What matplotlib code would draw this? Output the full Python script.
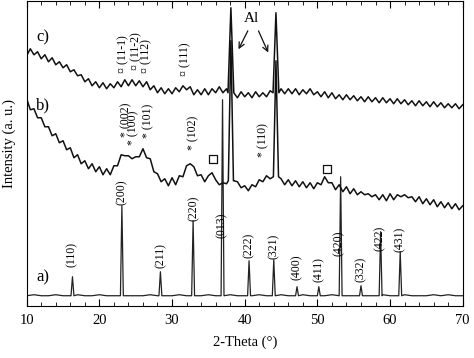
import numpy as np
import matplotlib
matplotlib.use('Agg')
import matplotlib.pyplot as plt
from matplotlib.ticker import MultipleLocator

plt.rcParams['font.family'] = ['Liberation Serif', 'DejaVu Serif']

# intensity, in pixels above the bottom spine
# traces b and c sampled every 0.5 deg from 10 to 70
theta_bc = np.arange(10, 70.01, 0.5)
base_c = [250, 257, 251, 254, 247, 251, 244, 248, 241, 244,
          238, 241, 234, 236, 230, 231, 224, 227, 220, 224,
          218, 223, 217, 222, 218, 224, 219, 226, 220, 226,
          220, 225, 219, 224, 216, 220, 213, 218, 212, 217,
          212, 218, 214, 220, 216, 219, 211, 216, 211, 217,
          211, 217, 213, 219, 213, 217, 213, 213, 208, 214,
          209, 213, 208, 214, 209, 213, 209, 215, 213, 213,
          217, 212, 217, 212, 217, 211, 216, 212, 217, 211,
          214, 209, 214, 208, 213, 207, 211, 206, 211, 206,
          210, 205, 209, 204, 209, 204, 208, 203, 208, 203,
          207, 202, 207, 202, 206, 201, 205, 200, 205, 200,
          204, 199, 204, 199, 203, 198, 202, 198, 202, 197,
          201]
base_b = [207, 196, 197, 188, 188, 179, 179, 170, 172, 163,
          165, 156, 158, 148, 151, 142, 145, 137, 142, 134,
          139, 131, 137, 131, 140, 140, 151, 150, 150, 147,
          149, 149, 157, 148, 147, 134, 132, 124, 127, 120,
          128, 121, 130, 129, 140, 142, 139, 130, 131, 124,
          130, 133, 126, 121, 123, 122, 126, 125, 124, 118,
          120, 115, 121, 119, 126, 124, 130, 127, 130, 128,
          127, 121, 126, 120, 125, 119, 124, 118, 123, 117,
          123, 121, 129, 123, 123, 116, 121, 114, 119, 112,
          117, 111, 114, 111, 112, 109, 111, 106, 111, 105,
          112, 106, 111, 109, 111, 108, 109, 104, 109, 102,
          107, 101, 106, 99, 104, 98, 103, 97, 102, 96,
          100]
# trace a sampled every 1 deg
theta_a = np.arange(10, 70.01, 1.0)
base_a = [10, 11, 10, 10, 11, 10, 10, 11, 10, 10,
          11, 10, 10, 11, 10, 10, 10, 11, 10, 10,
          10, 11, 10, 10, 10, 11, 10, 10, 11, 10,
          10, 10, 11, 10, 10, 11, 10, 10, 11, 10,
          10, 10, 11, 10, 10, 10, 11, 10, 10, 11,
          10, 10, 11, 10, 10, 10, 11, 10, 11, 10,
          10]

# sharp peaks: position, top, foot
peak_a_pos = [16.3, 23.1, 28.4, 32.9, 36.95, 40.6, 44.0, 47.2, 50.2, 53.2, 56.0, 58.7, 61.4]
peak_a_top = [29, 100, 34, 85, 206, 45, 46, 19, 19, 129, 20, 74, 54]
peak_a_foot = [10] * 13
peak_b_pos = [38.1, 44.3]
peak_b_top = [265, 245]
peak_b_foot = [125, 129]
peak_c_pos = [38.1, 44.3]
peak_c_top = [298, 293]
peak_c_foot = [213, 213]

# labels (x, y bottom)
hkl_a = ['(110)', '(200)', '(211)', '(220)', '(013)', '(222)', '(321)',
         '(400)', '(411)', '(420)', '(332)', '(422)', '(431)']
hkl_a_x = [16.2, 23.1, 28.4, 33.0, 36.85, 40.6, 44.0, 47.1, 50.2, 52.9, 56.0, 58.6, 61.4]
hkl_a_y = [39, 101, 38, 85, 68, 48, 47, 26, 24, 50, 24, 55, 54]
hkl_b = ['* (002)', '* (100)', '* (101)', '* (102)', '* (110)']
hkl_b_x = [23.7, 24.7, 26.7, 32.9, 42.6]
hkl_b_y = [169, 161, 168, 156, 149]
hkl_c = ['¤ (11-1)', '¤ (11-2)', '¤ (112)', '¤ (111)']
hkl_c_x = [23.3, 25.1, 26.5, 31.8]
hkl_c_y = [233, 236, 233, 230]
square_x = [35.7, 51.3]
square_y = [147, 137]


def build(theta, base, pos, top, foot, w):
    theta = np.asarray(theta)
    base = np.asarray(base, dtype=float)
    keep = np.ones(len(theta), bool)
    for p in pos:
        keep &= np.abs(theta - p) > w
    xs = list(theta[keep])
    ys = list(base[keep])
    for p, t, f in zip(pos, top, foot):
        xs += [p - w, p, p + w]
        ys += [f, t, f]
    order = np.argsort(xs)
    return np.array(xs)[order], np.array(ys)[order]


fig = plt.figure(figsize=(4.74, 3.58), dpi=100)
ax = fig.add_axes([0.0563, 0.146, 0.9199, 0.851])

xa, ya = build(theta_a, base_a, peak_a_pos, peak_a_top, peak_a_foot, 0.2)
xb, yb = build(theta_bc, base_b, peak_b_pos, peak_b_top, peak_b_foot, 0.35)
xc, yc = build(theta_bc, base_c, peak_c_pos, peak_c_top, peak_c_foot, 0.4)
ax.plot(xa, ya, color='#222222', lw=0.9)
ax.plot(xb, yb, color='#111111', lw=1.1)
ax.plot(xc, yc, color='#111111', lw=1.1)

for t, x, y in zip(hkl_a, hkl_a_x, hkl_a_y):
    ax.text(x, y, t, rotation=90, ha='center', va='bottom', fontsize=8.5)
for t, x, y in zip(hkl_b, hkl_b_x, hkl_b_y):
    ax.text(x, y, t, rotation=90, ha='center', va='bottom', fontsize=8.5)
for t, x, y in zip(hkl_c, hkl_c_x, hkl_c_y):
    ax.text(x, y, t, rotation=90, ha='center', va='bottom', fontsize=8.5)
ax.scatter(square_x, square_y, marker='s', s=28, facecolors='white',
           edgecolors='#111111', linewidths=0.9, zorder=3)

ax.text(40.9, 287, 'Al', ha='center', va='center', fontsize=11)
ax.annotate('', xy=(38.98, 254), xytext=(40.6, 277.4),
            arrowprops=dict(arrowstyle='->', lw=0.9, color='#111111'))
ax.annotate('', xy=(43.39, 250.7), xytext=(41.74, 277.4),
            arrowprops=dict(arrowstyle='->', lw=0.9, color='#111111'))

ax.text(12.25, 268.7, 'c)', ha='center', va='center', fontsize=12)
ax.text(12.25, 200.7, 'b)', ha='center', va='center', fontsize=12)
ax.text(12.25, 28, 'a)', ha='center', va='center', fontsize=12)

ax.set_xlim(10, 70)
ax.set_ylim(0, 304.7)
ax.set_xticks(range(10, 71, 10))
ax.xaxis.set_minor_locator(MultipleLocator(2))
ax.set_yticks([])
ax.tick_params(axis='x', which='both', direction='in', top=True, labelsize=10.5, pad=6)
ax.tick_params(axis='x', which='major', length=5)
ax.tick_params(axis='x', which='minor', length=3)
ax.set_xlabel('2-Theta (°)', fontsize=10.5, labelpad=6)
fig.text(9.5 / 474, 1 - 144 / 358, 'Intensity (a. u.)', rotation=90,
         ha='center', va='center', fontsize=10.5)

fig.savefig('out.png', dpi=100)
